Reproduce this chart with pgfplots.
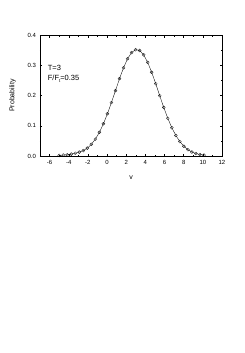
\documentclass[border=0pt]{standalone}
\usepackage{pgfplots}
\pgfplotsset{compat=1.18}
\usepackage{fontspec}
\setmainfont{Liberation Sans}
\begin{document}
\begin{tikzpicture}[x=1pt,y=1pt]
\begin{axis}[
  at={(0,0)}, anchor=south west,
  scale only axis, width=182pt, height=121pt,
  xmin=-7, xmax=12, ymin=0, ymax=0.4,
  xtick={-6,-4,...,12}, ytick={0,0.1,...,0.4},
  minor x tick num=1, minor y tick num=1,
  tick align=inside, tick pos=both,
  major tick length=2.5pt, minor tick length=1.5pt,
  every tick/.style={black, line width=0.4pt},
  axis line style={line width=0.6pt},
  yticklabel style={/pgf/number format/fixed,/pgf/number format/fixed zerofill,/pgf/number format/precision=1},
  /pgf/number format/assume math mode=true,
  tick label style={font=\fontsize{6}{7}\selectfont},
  xticklabel style={yshift=-1pt},
  yticklabel style={xshift=-0.5pt},
  xlabel={v}, ylabel={Probability},
  label style={font=\fontsize{7}{8}\selectfont},
  xlabel style={yshift=-4pt},
  ylabel style={yshift=5pt},
  clip=false,
]
\addplot[black, line width=0.35pt, mark=o, mark size=1.5pt, mark options={line width=0.3pt}] coordinates {
(-5.00,0.0020) (-4.58,0.0030) (-4.16,0.0040) (-3.74,0.0060) (-3.32,0.0090)
(-2.90,0.0130) (-2.48,0.0180) (-2.06,0.0260) (-1.64,0.0385) (-1.22,0.0557)
(-0.80,0.0784) (-0.38,0.1065) (0.04,0.1396) (0.46,0.1768) (0.88,0.2163)
(1.30,0.2556) (1.72,0.2916) (2.14,0.3214) (2.56,0.3420) (2.98,0.3515)
(3.40,0.3489) (3.82,0.3344) (4.24,0.3096) (4.66,0.2768) (5.08,0.2390)
(5.50,0.1993) (5.92,0.1605) (6.34,0.1248) (6.76,0.0937) (7.18,0.0680)
(7.60,0.0476) (8.02,0.0322) (8.44,0.0210) (8.86,0.0133) (9.28,0.0081)
(9.70,0.0048) (10.12,0.0027)
};
\node[anchor=west, font=\fontsize{7.5}{8}\selectfont, inner sep=0pt] at (axis cs:-6.2,0.291) {T=3};
\node[anchor=west, font=\fontsize{7.5}{8}\selectfont, inner sep=0pt] at (axis cs:-6.2,0.256) {F/F\raisebox{-0.4ex}{\fontsize{4.5}{5}\selectfont t}=0.35};
\end{axis}
\pgfresetboundingbox
\path[use as bounding box] (-40,-197) rectangle (205,156);
\end{tikzpicture}
\end{document}
